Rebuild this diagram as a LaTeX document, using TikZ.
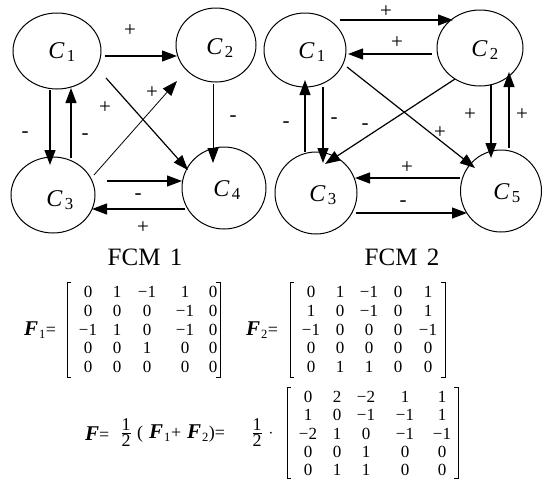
\documentclass[tikz,border=0pt]{standalone}
\usepackage{fontspec}
\setmainfont{Liberation Serif}
\usetikzlibrary{shapes.geometric,arrows.meta}
\newcommand\Cl[1]{C\hspace{2.5pt}\textsubscript{\upshape #1}}
\newcommand\Fv[1]{{\fontsize{21}{21}\selectfont\bfseries\itshape F}\hspace{1pt}\textsubscript{#1}}
\newcommand\halfx{$\vcenter{\hbox{\begin{tabular}{@{}c@{}}1\\[-3pt]\hline\noalign{\vskip 1pt}2\end{tabular}}}$}
\tikzset{
  concept/.style={draw, ellipse, line width=1pt, inner sep=0pt, outer sep=0pt},
  clabel/.style={font=\fontsize{24}{24}\selectfont\itshape, inner sep=0pt},
  arr/.style={line width=1.2pt, -{Triangle[length=15pt,width=11pt]}},
  thinarr/.style={line width=0.8pt, -{Triangle[length=15pt,width=11pt]}},
  sgn/.style={font=\fontsize{21}{21}\selectfont, inner sep=0pt},
  fcmtitle/.style={font=\fontsize{25}{25}\selectfont, inner sep=0pt},
  ent/.style={font=\fontsize{17}{17}\selectfont, inner sep=0pt},
  eqtext/.style={font=\fontsize{18}{18}\selectfont, inner sep=0pt},
  brk/.style={line width=0.9pt},
}
\begin{document}
\begin{tikzpicture}[x=1pt,y=-1pt]
\useasboundingbox (0,0) rectangle (542,480);
% ---------- FCM 1 ----------
\node[concept, minimum width=88pt, minimum height=76pt] (a1) at (57,51) {};
\node[concept, minimum width=80pt, minimum height=74pt] (a2) at (216,45) {};
\node[concept, minimum width=84pt, minimum height=76pt] (a3) at (53,195) {};
\node[concept, minimum width=84pt, minimum height=82pt] (a4) at (224,188) {};
\node[clabel] (la1) at (62,52) {\Cl{1}};
\node[clabel] (la2) at (220,48) {\Cl{2}};
\node[clabel] (la3) at (60,200) {\Cl{3}};
\node[clabel] (la4) at (227,190) {\Cl{4}};
\coordinate (a12s) at (105,56);  \coordinate (a12e) at (177,56);
\coordinate (a13s) at (50,90);   \coordinate (a13e) at (50,165);
\coordinate (a31s) at (71,158);  \coordinate (a31e) at (71,88);
\coordinate (a14s) at (106,78);  \coordinate (a14e) at (188,170);
\coordinate (a32s) at (94,175);  \coordinate (a32e) at (177,81);
\coordinate (a24s) at (213,84);  \coordinate (a24e) at (213,163);
\coordinate (a34s) at (107,181); \coordinate (a34e) at (182,181);
\coordinate (a43s) at (185,209); \coordinate (a43e) at (92,209);
\draw[arr] (a12s) -- (a12e);
\draw[arr] (a13s) -- (a13e);
\draw[arr] (a31s) -- (a31e);
\draw[arr] (a14s) -- (a14e);
\draw[thinarr] (a32s) -- (a32e);
\draw[thinarr] (a24s) -- (a24e);
\draw[arr] (a34s) -- (a34e);
\draw[arr] (a43s) -- (a43e);
\node[sgn] (sa1) at (130,31) {+};
\node[sgn] (sa2) at (25,135) {-};
\node[sgn] (sa3) at (85,137) {-};
\node[sgn] (sa4) at (105,108) {+};
\node[sgn] (sa5) at (152,93) {+};
\node[sgn] (sa6) at (233,119) {-};
\node[sgn] (sa7) at (138,197) {-};
\node[sgn] (sa8) at (143,228) {+};
\node[fcmtitle] (t1) at (145,257) {FCM\hspace{3pt} 1};
% ---------- FCM 2 ----------
\node[concept, minimum width=82pt, minimum height=74pt] (b1) at (305,50) {};
\node[concept, minimum width=86pt, minimum height=76pt] (b2) at (480,48) {};
\node[concept, minimum width=82pt, minimum height=82pt] (b3) at (316,193) {};
\node[concept, minimum width=81pt, minimum height=82pt] (b5) at (501,191) {};
\node[clabel] (lb1) at (312,52) {\Cl{1}};
\node[clabel] (lb2) at (485,50) {\Cl{2}};
\node[clabel] (lb3) at (323,195) {\Cl{3}};
\node[clabel] (lb5) at (507,193) {\Cl{5}};
\coordinate (b12s) at (340,20);  \coordinate (b12e) at (453,20);
\coordinate (b21s) at (432,54);  \coordinate (b21e) at (348,54);
\coordinate (b15s) at (347,67);  \coordinate (b15e) at (475,168);
\coordinate (b23s) at (455,79);  \coordinate (b23e) at (325,164);
\coordinate (b13s) at (323,87);  \coordinate (b13e) at (323,163);
\coordinate (b31s) at (305,152); \coordinate (b31e) at (305,80);
\coordinate (b25s) at (491,85);  \coordinate (b25e) at (491,158);
\coordinate (b52s) at (509,148); \coordinate (b52e) at (509,72);
\coordinate (b53s) at (460,178); \coordinate (b53e) at (355,178);
\coordinate (b35s) at (356,213); \coordinate (b35e) at (467,213);
\draw[arr] (b12s) -- (b12e);
\draw[arr] (b21s) -- (b21e);
\draw[arr] (b15s) -- (b15e);
\draw[arr] (b23s) -- (b23e);
\draw[arr] (b13s) -- (b13e);
\draw[arr] (b31s) -- (b31e);
\draw[arr] (b25s) -- (b25e);
\draw[arr] (b52s) -- (b52e);
\draw[arr] (b53s) -- (b53e);
\draw[arr] (b35s) -- (b35e);
\node[sgn] (sb1) at (386,12) {+};
\node[sgn] (sb2) at (397,43) {+};
\node[sgn] (sb3) at (440,133) {+};
\node[sgn] (sb4) at (365,127) {-};
\node[sgn] (sb5) at (334,121) {-};
\node[sgn] (sb6) at (286,125) {-};
\node[sgn] (sb7) at (470,115) {+};
\node[sgn] (sb8) at (522,115) {+};
\node[sgn] (sb9) at (407,168) {+};
\node[sgn] (sb10) at (403,204) {-};
\node[fcmtitle] (t2) at (402,257) {FCM\hspace{3pt} 2};
% ---------- matrices ----------
\node[inner sep=0pt, font=\fontsize{18}{18}\selectfont] (F1lab) at (40,330) {\Fv{1}=};
\foreach \row [count=\r] in {{0,1,−1,1,0},{0,0,0,−1,0},{−1,1,0,−1,0},{0,0,1,0,0},{0,0,0,0,0}} {
  \foreach \v [count=\c] in \row {
    \pgfmathsetmacro\xx{{88,117,147,185,213}[\c-1]}
    \pgfmathsetmacro\yy{{292,311,330,348,367}[\r-1]}
    \node[ent] (Fa-\r-\c) at (\xx,\yy) {\v};
  }
}
\draw[brk] (71,282) -- (67,282) -- (67,377) -- (71,377);
\draw[brk] (216,282) -- (220,282) -- (220,377) -- (216,377);
\node[inner sep=0pt, font=\fontsize{18}{18}\selectfont] (F2lab) at (262,330) {\Fv{2}=};
\foreach \row [count=\r] in {{0,1,−1,0,1},{1,0,−1,0,1},{−1,0,0,0,−1},{0,0,0,0,0},{0,1,1,0,0}} {
  \foreach \v [count=\c] in \row {
    \pgfmathsetmacro\xx{{311,340,369,398,428}[\c-1]}
    \pgfmathsetmacro\yy{{292,311,330,348,367}[\r-1]}
    \node[ent] (Fb-\r-\c) at (\xx,\yy) {\v};
  }
}
\draw[brk] (294,282) -- (290,282) -- (290,377) -- (294,377);
\draw[brk] (441,282) -- (445,282) -- (445,377) -- (441,377);
% ---------- F equation ----------
\node[eqtext, anchor=west] (eqF) at (85,434) {{\fontsize{21}{21}\selectfont\bfseries\itshape F}=};
\node[eqtext] (h1) at (126,435) {\halfx};
\node[eqtext, anchor=west] (eqm) at (137,434) {(\hspace{6pt}\Fv{1}+\hspace{6pt}\Fv{2})=};
\node[eqtext] (h2) at (257,435) {\halfx};
\node[eqtext] (dot) at (271,434) {$\cdot$};
\foreach \row [count=\r] in {{0,2,−2,1,1},{1,0,−1,−1,1},{−2,1,0,−1,−1},{0,0,1,0,0},{0,1,1,0,0}} {
  \foreach \v [count=\c] in \row {
    \pgfmathsetmacro\xx{{308,337,366,405,442}[\c-1]}
    \pgfmathsetmacro\yy{{397,415,434,452,470}[\r-1]}
    \node[ent] (Fc-\r-\c) at (\xx,\yy) {\v};
  }
}
\draw[brk] (291,387) -- (287,387) -- (287,478) -- (291,478);
\draw[brk] (454,387) -- (458,387) -- (458,478) -- (454,478);
\end{tikzpicture}
\end{document}
